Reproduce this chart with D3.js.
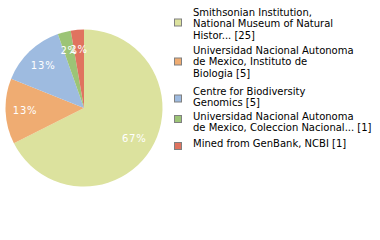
<!DOCTYPE html>
<html>
<head>
<meta charset="utf-8">
<script src="https://cdn.jsdelivr.net/npm/d3@7"></script>
<style>
html,body{margin:0;padding:0;background:#fff;}
svg{display:block;}
text{font-family:"DejaVu Sans",sans-serif;}
</style>
</head>
<body>
<svg id="chart" width="380" height="240"></svg>
<script>
const categories = [
  ["Smithsonian Institution,", "National Museum of Natural", "Histor... [25]"],
  ["Universidad Nacional Autonoma", "de Mexico, Instituto de", "Biologia [5]"],
  ["Centre for Biodiversity", "Genomics [5]"],
  ["Universidad Nacional Autonoma", "de Mexico, Coleccion Nacional... [1]"],
  ["Mined from GenBank, NCBI [1]"]
];
const values = [25, 5, 5, 1, 1];
const colors = ["#dce29e", "#efac72", "#9ebbe0", "#9cc476", "#e0735f"];

// layout constants
const cx = 84, cy = 108, R = 78.5, labelR = 59;
const legendTextX = 193, legendBoxX = 174.5, boxSize = 7;
const entryBaselines = [16, 54, 95, 120, 147];
const boxCenters = [22.5, 61.5, 98.5, 119, 146];
const lineH = 11.3;

const svg = d3.select("#chart");
const total = d3.sum(values);
const pie = d3.pie().sort(null).value(d => d);
const arcs = pie(values);
const arc = d3.arc().innerRadius(0).outerRadius(R);
const labelArc = d3.arc().innerRadius(labelR).outerRadius(labelR);

const g = svg.append("g").attr("transform", `translate(${cx},${cy})`);
g.selectAll("path").data(arcs).enter().append("path")
  .attr("d", arc)
  .attr("fill", (d, i) => colors[i]);

g.selectAll("text.lbl").data(arcs).enter().append("text")
  .attr("class", "lbl")
  .attr("transform", d => `translate(${labelArc.centroid(d)})`)
  .attr("text-anchor", "middle")
  .attr("dy", "0.35em")
  .attr("fill", "#fff")
  .attr("font-size", "10px")
  .attr("letter-spacing", "0.8px")
  .text(d => Math.floor(d.data / total * 100) + "%");

const leg = svg.append("g");
categories.forEach((lines, i) => {
  leg.append("rect")
    .attr("x", legendBoxX).attr("y", boxCenters[i] - boxSize / 2)
    .attr("width", boxSize).attr("height", boxSize)
    .attr("fill", colors[i]).attr("stroke", "#808080").attr("stroke-width", 1);
  const t = leg.append("text").attr("font-size", "10px").attr("fill", "#000");
  lines.forEach((ln, j) => {
    t.append("tspan").attr("x", legendTextX).attr("y", entryBaselines[i] + j * lineH).text(ln);
  });
});
</script>
</body>
</html>
